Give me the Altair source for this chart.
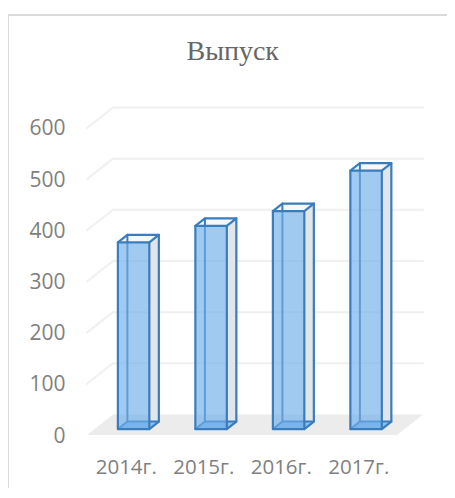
import json
import altair as alt
import pandas as pd

categories = ["2014г.", "2015г.", "2016г.", "2017г."]
values = [365, 397, 426, 505]
y_ticks = [0, 100, 200, 300, 400, 500, 600]
grid_values = [100, 200, 300, 400, 500, 600]
title_text = ["Выпуск"]

W, H = 439, 480
PX_X, PX_Y = 77.5, 0.5117
X0, Y0 = 79, 427
x_dom = [-X0 / PX_X, (W - X0) / PX_X]
y_dom = [(Y0 - H) / PX_Y, Y0 / PX_Y]
DX, DY = 26 / PX_X, 20.5 / PX_Y  # shift of full depth of the 3D box
n = len(categories)


def P(c, v, d):
    return c + d * DX, v + d * DY


xs = alt.Scale(domain=x_dom, nice=False, zero=False)
ys = alt.Scale(domain=y_dom, nice=False, zero=False)
x_axis = alt.Axis(
    values=[i + 0.5 for i in range(n)],
    labelExpr=json.dumps(categories, ensure_ascii=False) + "[floor(datum.value)]",
    ticks=False, domain=False, grid=False, title=None,
    labelFont="Open Sans", labelFontSize=20.5, labelColor="#7f7f7f",
    labelPadding=0, offset=-31, labelOverlap=False, labelFlush=False,
)
y_axis = alt.Axis(
    values=y_ticks,
    ticks=False, domain=False, grid=False, title=None,
    labelFont="Open Sans", labelFontSize=21, labelColor="#7f7f7f",
    labelPadding=0, offset=-57, labelOverlap=False, labelOffset=1,
)
X = alt.X("x:Q", scale=xs, axis=x_axis)
Y = alt.Y("y:Q", scale=ys, axis=y_axis)


def polylines(paths):
    rows = []
    for i, path in enumerate(paths):
        for j, (x, y) in enumerate(path):
            rows.append({"x": x, "y": y, "g": i, "o": j})
    return pd.DataFrame(rows)


def line_layer(paths, color, width):
    return alt.Chart(polylines(paths)).mark_line(
        color=color, strokeWidth=width, strokeCap="round", strokeJoin="round"
    ).encode(x=X, y=Y, detail="g:N", order="o:Q")


def poly_layer(paths, color, opacity=1):
    return alt.Chart(polylines([p + [p[0]] for p in paths])).mark_line(
        color=color, filled=True, fill=color, opacity=opacity, strokeWidth=0
    ).encode(x=X, y=Y, detail="g:N", order="o:Q")


grid_paths = [[P(0, v, 0), P(0, v, 1), P(n, v, 1)] for v in grid_values]
floor = [[P(0, 0, 0), P(0, 0, 1), P(n, 0, 1), P(n, 0, 0)]]

C0, BW, D0, D1 = 0.301, 0.406, 0.29, 0.656
sides, tops, bottoms, fronts = [], [], [], []
front_edges, back_edges = [], []
for i, v in enumerate(values):
    a, b = i + C0, i + C0 + BW
    sides.append([P(b, 0, D0), P(b, 0, D1), P(b, v, D1), P(b, v, D0)])
    tops.append([P(a, v, D0), P(a, v, D1), P(b, v, D1), P(b, v, D0)])
    bottoms.append([P(a, 0, D0), P(a, 0, D1), P(b, 0, D1), P(b, 0, D0)])
    fronts.append([P(a, 0, D0), P(b, 0, D0), P(b, v, D0), P(a, v, D0)])
    back_edges.append([P(a, 0, D0), P(a, 0, D1), P(a, v, D1)])
    back_edges.append([P(a, 0, D1), P(b, 0, D1)])
    front_edges.append([P(a, 0, D0), P(b, 0, D0), P(b, v, D0), P(a, v, D0), P(a, 0, D0)])
    front_edges.append([P(a, v, D0), P(a, v, D1), P(b, v, D1), P(b, v, D0)])
    front_edges.append([P(b, 0, D0), P(b, 0, D1), P(b, v, D1)])

title = alt.Chart(pd.DataFrame({"t": title_text, "x": [(224.7 - X0) / PX_X], "y": [(Y0 - 52) / PX_Y]})).mark_text(
    font="Liberation Serif", fontSize=28, color="#666666", align="center", baseline="alphabetic"
).encode(x=X, y=Y, text="t:N")

frame_l = alt.Chart(pd.DataFrame({"a": [0]})).mark_rule(color="#d9d9d9", strokeWidth=2).encode(
    x=alt.value(0), y=alt.value(6), y2=alt.value(H)
)
frame_t = alt.Chart(pd.DataFrame({"a": [0]})).mark_rule(color="#d9d9d9", strokeWidth=2).encode(
    y=alt.value(7), x=alt.value(0), x2=alt.value(W)
)

chart = alt.layer(
    frame_l,
    frame_t,
    title,
    line_layer(grid_paths, "#f0f0f0", 2),
    poly_layer(floor, "#ececec"),
    poly_layer(sides, "#e1e6ea"),
    poly_layer(tops, "#f5f7f9"),
    poly_layer(bottoms, "#8fbfea"),
    line_layer(back_edges, "#3a7dbd", 2),
    poly_layer(fronts, "#6fadea", 0.65),
    line_layer(front_edges, "#3a7dbd", 2.2),
).properties(
    width=W, height=H, padding=0, autosize=alt.AutoSizeParams(type="none")
).configure_view(stroke=None)

chart.save("out.html", embed_options={"renderer": "svg", "actions": False})
